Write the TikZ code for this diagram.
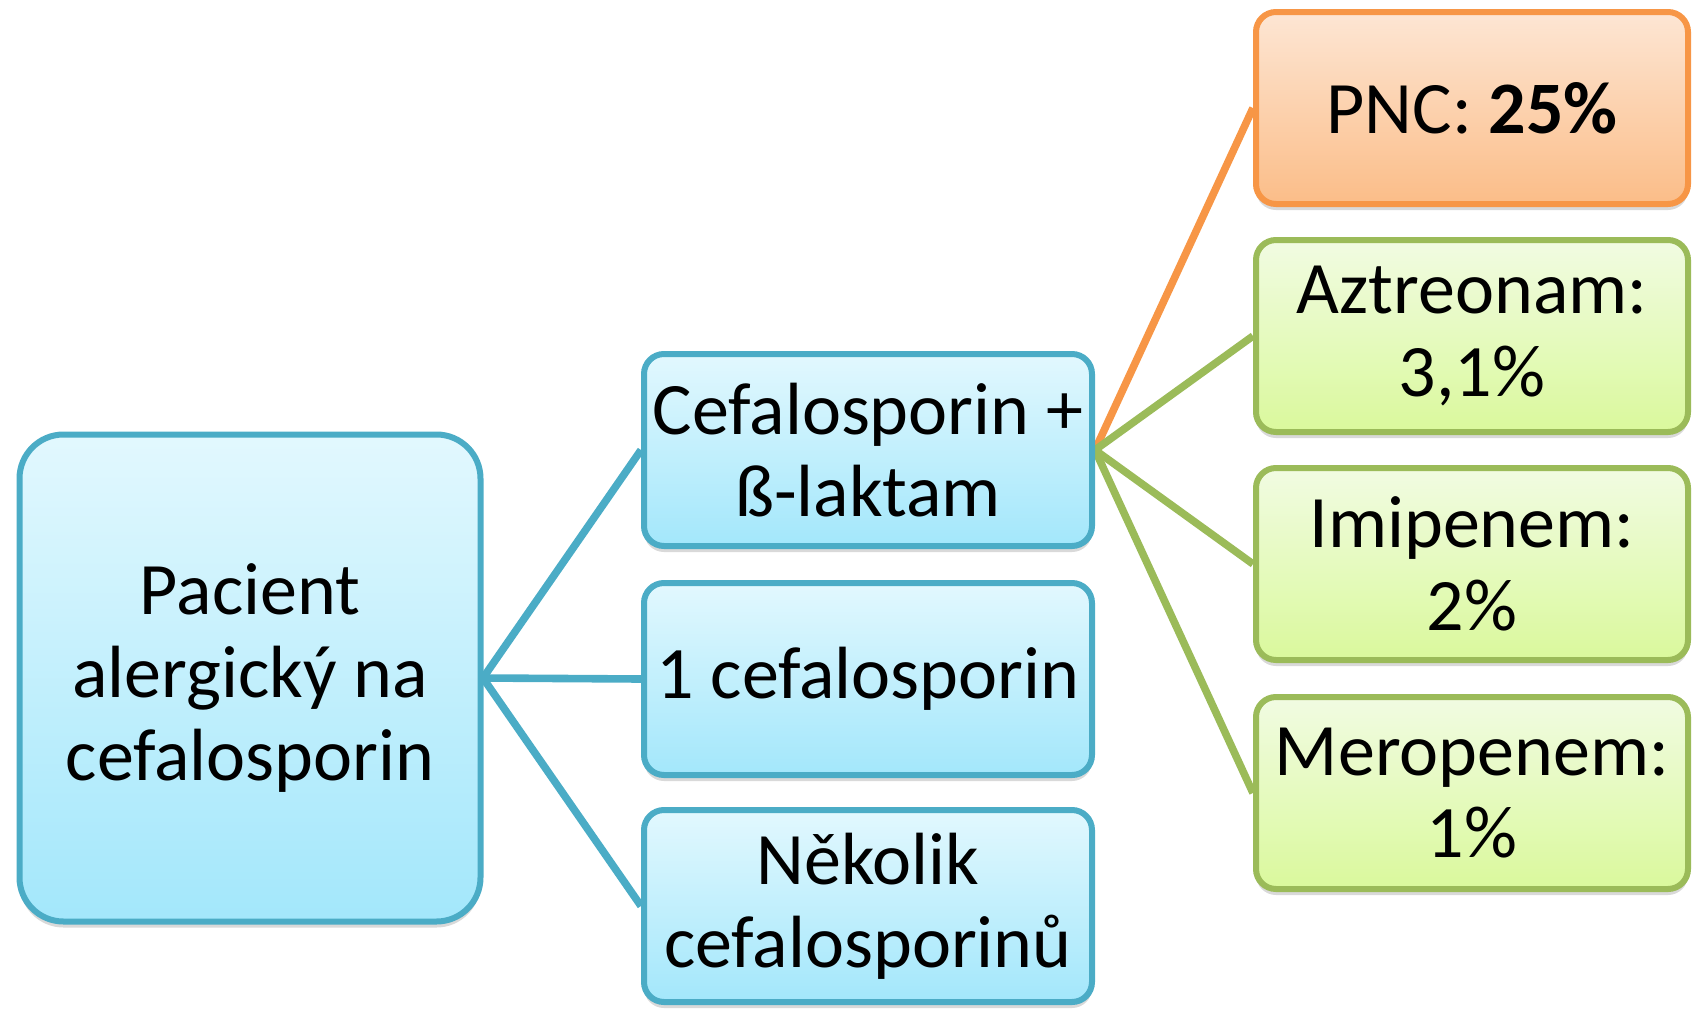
\documentclass[tikz,border=0pt]{standalone}
\usepackage{fontspec}
\setmainfont{Carlito}
\usetikzlibrary{shadows}
\definecolor{aqualine}{HTML}{4BACC6}
\definecolor{aquatop}{HTML}{E2F8FE}
\definecolor{aquabot}{HTML}{A3E7FB}
\definecolor{orangeline}{HTML}{F79646}
\definecolor{orangetop}{HTML}{FDE6D4}
\definecolor{orangebot}{HTML}{FBBD88}
\definecolor{greenline}{HTML}{9BBB59}
\definecolor{greentop}{HTML}{F1FBE2}
\definecolor{greenbot}{HTML}{DAF99C}

\begin{document}
\begin{tikzpicture}[x=.5pt,y=-.5pt,
  box/.style={rectangle,rounded corners=10pt,line width=3pt,align=center,
    inner sep=0pt,minimum width=224pt,minimum height=96pt,
    font=\fontsize{37}{41.3}\selectfont,
    drop shadow={shadow xshift=0pt,shadow yshift=-3pt,opacity=.3}},
  aquabox/.style={box,draw=aqualine,top color=aquatop,bottom color=aquabot},
  orangebox/.style={box,draw=orangeline,top color=orangetop,bottom color=orangebot,minimum width=216pt},
  greenbox/.style={box,draw=greenline,top color=greentop,bottom color=greenbot,minimum width=216pt},
  link/.style={line width=3.8pt}]
  \useasboundingbox (0,0) rectangle (1694,1008);
  % connectors go below the boxes
  \coordinate (r) at (483,678);
  \coordinate (m) at (1095,450);
  \draw[link,aqualine] (r) -- (641,450) coordinate (m1w);
  \draw[link,aqualine] (r) -- (641,679) coordinate (m2w);
  \draw[link,aqualine] (r) -- (641,906) coordinate (m3w);
  \draw[link,orangeline] (m) -- (1253,108) coordinate (p1w);
  \draw[link,greenline] (m) -- (1253,336) coordinate (p2w);
  \draw[link,greenline] (m) -- (1253,564) coordinate (p3w);
  \draw[link,greenline] (m) -- (1253,793) coordinate (p4w);
  % boxes
  \node[aquabox,rounded corners=22pt,minimum width=230.5pt,minimum height=243.5pt] (root) at (250,678)
    {Pacient\\alergický na\\cefalosporin};
  \node[aquabox] (ceflak) at (868,450) {Cefalosporin +\\ß-laktam};
  \node[aquabox] (onecef) at (868,679) {1 cefalosporin};
  \node[aquabox] (somecef) at (868,906) {Několik\\cefalosporinů};
  \node[orangebox] (pnc) at (1472,108) {PNC: \textbf{25\%}};
  \node[greenbox] (aztr) at (1472,336) {Aztreonam:\\3,1\%};
  \node[greenbox] (imip) at (1472,564) {Imipenem:\\2\%};
  \node[greenbox] (merop) at (1472,793) {Meropenem:\\1\%};
\end{tikzpicture}
\end{document}
